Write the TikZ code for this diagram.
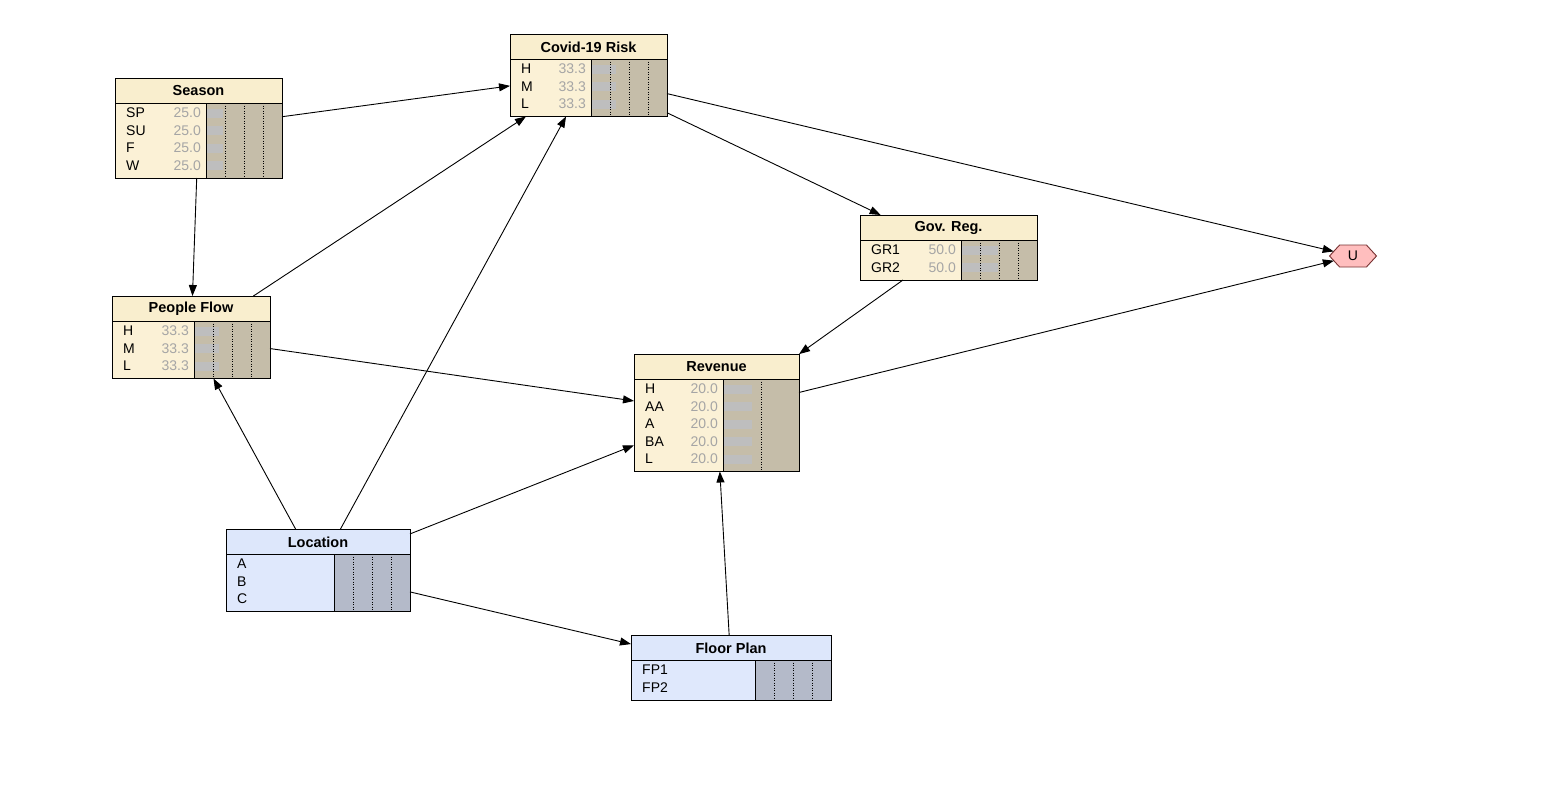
\documentclass[tikz,border=0pt]{standalone}
\usepackage{fontspec}
\setmainfont{Liberation Sans}
\usepackage{tikz}
\usetikzlibrary{arrows.meta, shapes.symbols}

\definecolor{beigehead}{RGB}{249,238,206}
\definecolor{beigebody}{RGB}{251,241,214}
\definecolor{beigechart}{RGB}{197,189,169}
\definecolor{bluehead}{RGB}{221,231,251}
\definecolor{bluebody}{RGB}{223,232,252}
\definecolor{bluechart}{RGB}{180,186,201}
\definecolor{bargray}{RGB}{190,190,190}
\definecolor{valgray}{RGB}{165,165,165}
\definecolor{upink}{RGB}{255,190,190}
\definecolor{uborder}{RGB}{120,50,50}

\tikzset{
  bnframe/.style={rectangle, inner sep=0pt, outer sep=0pt},
  rowlab/.style={anchor=west, inner sep=0pt, font=\fontsize{14}{15}\selectfont},
  rowval/.style={anchor=east, inner sep=0pt, text=valgray, font=\fontsize{14}{15}\selectfont},
  titletext/.style={inner sep=0pt, font=\fontsize{14.5}{15}\selectfont\bfseries},
  tickline/.style={line width=0.8pt, dash pattern=on 1pt off 1.5pt},
  link/.style={-{Triangle[length=11pt,width=8pt]}, line width=0.9pt},
  utility/.style={signal, signal to=west and east, signal pointer angle=95,
    minimum width=47pt, minimum height=22pt, inner sep=0pt, outer sep=0pt,
    fill=upink, draw=uborder, line width=0.9pt, font=\fontsize{14}{15}\selectfont}
}

% #1 name, #2 north west, #3 width, #4 scheme, #5 title, #6 rows, #7 bar, #8 ticks, #9 height
\newcommand{\bnbox}[9]{%
  \begin{scope}[shift={#2}]
    \node[bnframe, minimum width=#3pt, minimum height=#9pt, anchor=north west] (#1) at (0,0) {};
    \fill[#4body] (0,25) rectangle (#3,#9);
    \fill[#4head] (0,0) rectangle (#3,25);
    \fill[#4chart] (#3-76,25) rectangle (#3,#9);
    \foreach \lab/\val [count=\i] in {#6} {
      \fill[bargray] (#3-76,17.5*\i+13) rectangle ++(#7,9);
      \node[rowlab] at (11,17.5*\i+17.5) {\lab};
      \node[rowval] at (#3-81,17.5*\i+17.5) {\val};
    }
    \foreach \t in {#8}
      \draw[tickline] (#3-76+\t,25) -- (#3-76+\t,#9);
    \draw[line width=0.9pt] (0,0) rectangle (#3,#9);
    \draw[line width=0.9pt] (0,25) -- (#3,25);
    \draw[line width=0.9pt] (#3-76,25) -- (#3-76,#9);
    \node[titletext] at (#3/2,13) {#5};
  \end{scope}}

\begin{document}
\begin{tikzpicture}[x=1pt, y=-1pt]
    \useasboundingbox (0,0) rectangle (1565,795);

    \bnbox{season}{(115,78)}{167}{beige}{Season}{SP/25.0,SU/25.0,F/25.0,W/25.0}{17}{19,38,57}{100}
    \bnbox{covid}{(510,34)}{157}{beige}{Covid-19 Risk}{H/33.3,M/33.3,L/33.3}{25}{19,38,57}{82.5}
    \bnbox{flow}{(112,296)}{158}{beige}{People Flow}{H/33.3,M/33.3,L/33.3}{25}{19,38,57}{82.5}
    \bnbox{govreg}{(860,215)}{177}{beige}{Gov. Reg.}{GR1/50.0,GR2/50.0}{37}{19,38,57}{65}
    \bnbox{revenue}{(634,354)}{165}{beige}{Revenue}{H/20.0,AA/20.0,A/20.0,BA/20.0,L/20.0}{29}{38}{117.5}
    \bnbox{location}{(226,529)}{184}{blue}{Location}{A/{},B/{},C/{}}{0}{19,38,57}{82.5}
    \bnbox{floorplan}{(631,635)}{200}{blue}{Floor Plan}{FP1/{},FP2/{}}{0}{19,38,57}{65}

    \node[utility] (u) at (1353,256) {U};

    \draw[link] (season) -- (covid);
    \draw[link] (season) -- (flow);
    \draw[link] (flow) -- (covid);
    \draw[link] (location) -- (covid);
    \draw[link] (location) -- (flow);
    \draw[link] (flow) -- (revenue);
    \draw[link] (location) -- (revenue);
    \draw[link] (location) -- (floorplan);
    \draw[link] (floorplan) -- (revenue);
    \draw[link] (covid) -- (govreg);
    \draw[link] (govreg) -- (revenue);
    \draw[link] (covid) -- (u);
    \draw[link] (revenue) -- (u);
\end{tikzpicture}
\end{document}
